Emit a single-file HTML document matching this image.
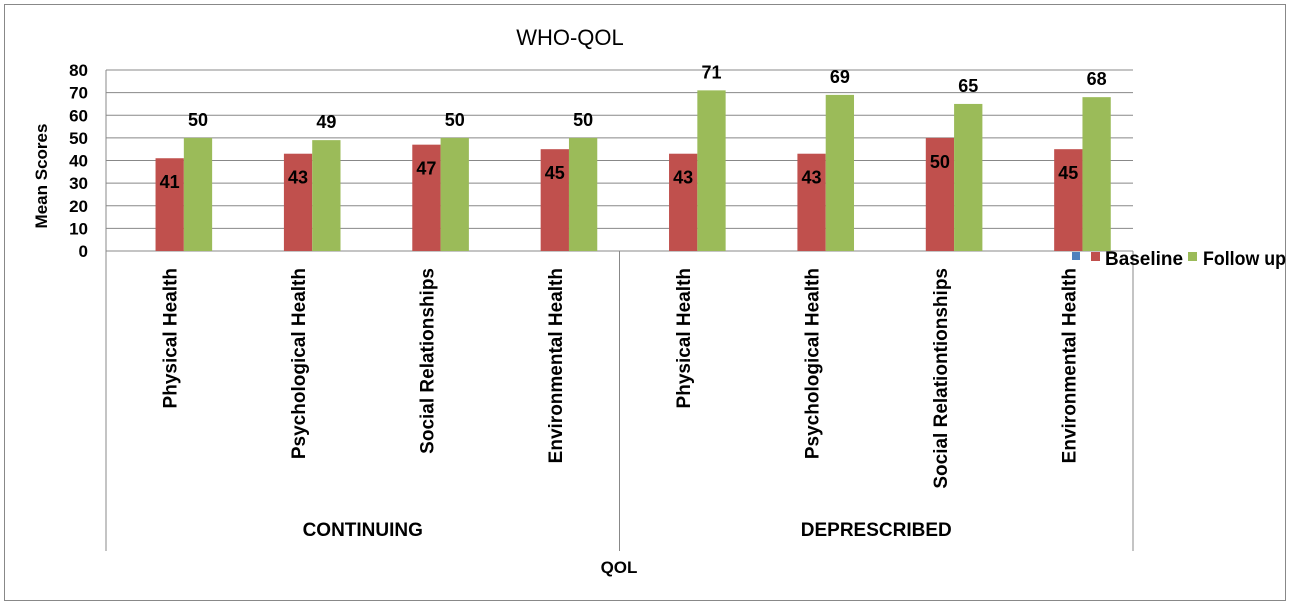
<!DOCTYPE html>
<html><head><meta charset="utf-8"><style>
body{margin:0;background:#fff;}
svg text{font-family:"Liberation Sans",Arial,sans-serif;font-weight:bold;fill:#000;}
</style></head><body>
<svg width="1290" height="606" xmlns="http://www.w3.org/2000/svg">
<rect x="4.5" y="4.5" width="1281" height="596" fill="#fff" stroke="#888" stroke-width="1"/>
<text x="570" y="45" font-size="22" text-anchor="middle" style="font-weight:normal">WHO-QOL</text>
<g id="grid"></g>
<g id="bars"></g>
<g id="labels"></g>
<text transform="translate(47,176) rotate(-90)" font-size="17" text-anchor="middle">Mean Scores</text>
<text x="619" y="573" font-size="17" text-anchor="middle">QOL</text>
<g>
<rect x="1072" y="252" width="8" height="8" fill="#4F81BD"/>
<rect x="1091" y="252" width="9" height="9" fill="#C0504D"/>
<text x="1105" y="265" font-size="19" textLength="78" lengthAdjust="spacingAndGlyphs">Baseline</text>
<rect x="1188" y="252" width="9" height="9" fill="#9BBB59"/>
<text x="1203" y="265" font-size="19" textLength="83" lengthAdjust="spacingAndGlyphs">Follow up</text>
</g>
</svg>
<script>
const categories=["Physical Health","Psychological Health","Social Relationships","Environmental Health","Physical Health","Psychological Health","Social Relationtionships","Environmental Health"];
const groups=["CONTINUING","DEPRESCRIBED"];
const baseline=[41,43,47,45,43,43,50,45];
const followup=[50,49,50,50,71,69,65,68];
const ticks=[0,10,20,30,40,50,60,70,80];
const NS="http://www.w3.org/2000/svg";
const L=106,R=1133,T=70,B=251,ymax=80;
const cw=(R-L)/categories.length;
const y=v=>B-(B-T)*v/ymax;
function mk(tag,attrs,parent,txt){const e=document.createElementNS(NS,tag);for(const k in attrs)e.setAttribute(k,attrs[k]);if(txt!==undefined)e.textContent=txt;document.querySelector(parent).appendChild(e);return e;}
ticks.forEach(t=>{
 const l=mk('line',{x1:L,x2:R,y1:y(t),y2:y(t),stroke:'#888','stroke-width':1},'#grid');
 
 
 const tx=mk('text',{x:88,y:y(t)+6,'font-size':17,'text-anchor':'end'},'#grid',t);
 
 
});
const ax=mk('line',{x1:L,x2:L,y1:T,y2:551,stroke:'#888'},'#grid');


[1,2].forEach(i=>{const d=mk('line',{x1:L+i*(R-L)/2,x2:L+i*(R-L)/2,y1:B,y2:551,stroke:'#888'},'#grid');
 
 });
const bw=28.3;
categories.forEach((c,i)=>{
 const cx=L+cw*(i+0.5);
 const rx=cx-bw/2-0.5, gx=cx+bw/2-0.5;
 const rb=mk('rect',{x:rx,y:y(baseline[i]),width:bw,height:B-y(baseline[i]),fill:'#C0504D'},'#bars');
 
 
 const gb=mk('rect',{x:gx,y:y(followup[i]),width:bw,height:B-y(followup[i]),fill:'#9BBB59'},'#bars');
 
 
 const rl=mk('text',{x:rx+bw/2,y:y(baseline[i])+30,'font-size':18,'text-anchor':'middle'},'#labels',baseline[i]);
 
 
 const gl=mk('text',{x:gx+bw/2,y:y(followup[i])-12,'font-size':18,'text-anchor':'middle'},'#labels',followup[i]);
 
 
 const cl=mk('text',{transform:`translate(${cx+6.5},268) rotate(-90)`,'font-size':19,'text-anchor':'end'},'#labels',c);
 
 
});
groups.forEach((g,i)=>{
 const t=mk('text',{x:L+(R-L)/2*(i+0.5),y:536,'font-size':19,'text-anchor':'middle'},'#labels',g);
 
 
});
</script>
</body></html>
